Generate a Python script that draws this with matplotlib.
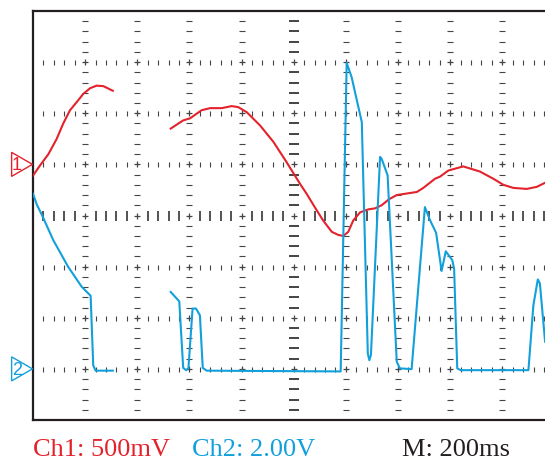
import matplotlib
matplotlib.use("Agg")
import matplotlib.pyplot as plt
from matplotlib.patches import Polygon
import numpy as np

# scope settings
ch1_scale = 0.5      # V/div
ch2_scale = 2.0      # V/div
time_scale = 200.0   # ms/div
ch1_ref = 1.0        # ground marker position, div
ch2_ref = -3.0

# Ch1 (red), two pieces, time in ms, volts
ch1_t_a = [0, 27, 59, 91, 116, 142, 168, 193, 219, 244, 270, 306]
ch1_v_a = [-0.11, -0.01, 0.10, 0.25, 0.40, 0.53, 0.61, 0.69, 0.745, 0.77,
           0.765, 0.72]

ch1_t_b = [528, 576, 602, 647, 679, 724, 762, 787, 820, 871, 922, 973, 1024,
           1050, 1081, 1113, 1146, 1171, 1190, 1209, 1228, 1254, 1286, 1312,
           1337, 1366, 1395, 1472, 1497, 1542, 1561, 1593, 1650, 1714, 1765,
           1804, 1842, 1893, 1932, 1964]
ch1_v_b = [0.35, 0.43, 0.45, 0.53, 0.55, 0.55, 0.57, 0.56, 0.51, 0.38, 0.22,
           0.02, -0.19, -0.29, -0.42, -0.55, -0.66, -0.69, -0.70, -0.66, -0.55,
           -0.47, -0.44, -0.43, -0.40, -0.34, -0.30, -0.27, -0.23, -0.14, -0.12,
           -0.06, -0.02, -0.07, -0.14, -0.20, -0.23, -0.24, -0.22, -0.18]

# Ch2 (blue)
ch2_t_a = [0, 15, 37, 78, 135, 187, 221, 231, 240, 306]
ch2_v_a = [6.85, 6.42, 5.96, 5.03, 3.99, 3.21, 2.86, 0.14, -0.07, -0.07]

ch2_t_b = [528, 561, 576, 587, 596, 612, 625, 640, 651, 666, 1180, 1203, 1222,
           1261, 1284, 1290, 1296, 1331, 1337, 1360, 1395, 1407, 1452, 1503,
           1523, 1546, 1567, 1583, 1608, 1615, 1627, 1640, 1900, 1919, 1936,
           1944, 1964]
ch2_v_b = [3.01, 2.64, 0.04, -0.05, 0.02, 2.36, 2.36, 2.10, 0.04, -0.07, -0.10,
           11.97, 11.41, 9.65, 0.60, 0.34, 0.55, 8.29, 8.22, 7.57, 0.28, 0.02,
           -0.01, 6.33, 5.81, 5.32, 3.83, 4.60, 4.25, 3.92, 0.02, -0.05, -0.05,
           2.49, 3.50, 3.34, 1.06]

labels = ["Ch1: 500mV", "Ch2: 2.00V", "M: 200ms"]

RED = "#e3222b"
BLUE = "#12a0dc"
GRID = "#444444"
FRAME = "#231f20"

W, H = 545, 460
fig = plt.figure(figsize=(W / 100, H / 100), dpi=100)
ax = fig.add_axes([33 / W, 39 / H, (W - 33) / W, 409 / H])
x_max = (W - 33) / 52.15
ax.set_xlim(0, x_max)
ax.set_ylim(-4, 4)
ax.set_xticks([])
ax.set_yticks([])
ax.spines["right"].set_visible(False)
for s in ["left", "top", "bottom"]:
    ax.spines[s].set_color(FRAME)
    ax.spines[s].set_linewidth(1.6)

# graticule
minor_y = [y for y in np.arange(-3.8, 4.0, 0.2) if abs(y - round(y)) > 0.05]
minor_x = [x for x in np.arange(0.2, x_max, 0.2) if abs(x - round(x)) > 0.05]
for cx in range(1, 10):
    if cx == 5:
        ax.plot([cx] * len(minor_y), minor_y, ls="none", marker="_", ms=7,
                mew=1.4, color=GRID, zorder=1)
    else:
        ax.plot([cx] * len(minor_y), minor_y, ls="none", marker="_", ms=3.8,
                mew=0.8, color=GRID, zorder=1)
for cy in range(-3, 4):
    if cy == 0:
        ax.plot(minor_x, [cy] * len(minor_x), ls="none", marker="|", ms=7,
                mew=1.3, color=GRID, zorder=1)
    else:
        ax.plot(minor_x, [cy] * len(minor_x), ls="none", marker="|", ms=3.6,
                mew=0.8, color=GRID, zorder=1)
gx, gy = np.meshgrid(np.arange(1, 10), np.arange(-3, 4))
ax.plot(gx.ravel(), gy.ravel(), ls="none", marker="+", ms=4.5, mew=0.9,
        color=GRID, zorder=1)

# traces
def to_div(t, v, scale, ref):
    return np.array(t) / time_scale, ref + np.array(v) / scale

for t, v in [(ch1_t_a, ch1_v_a), (ch1_t_b, ch1_v_b)]:
    x, y = to_div(t, v, ch1_scale, ch1_ref)
    ax.plot(x, y, color=RED, lw=1.5, zorder=3, solid_joinstyle="round")
for t, v in [(ch2_t_a, ch2_v_a), (ch2_t_b, ch2_v_b)]:
    x, y = to_div(t, v, ch2_scale, ch2_ref)
    ax.plot(x, y, color=BLUE, lw=1.5, zorder=4, solid_joinstyle="round")

# channel markers
for ref, col, num in [(ch1_ref, RED, "1"), (ch2_ref, BLUE, "2")]:
    tri = Polygon([[-0.41, ref + 0.235], [-0.41, ref - 0.235], [-0.01, ref]],
                  closed=True, facecolor="white", edgecolor=col, lw=1.0,
                  clip_on=False, zorder=5)
    ax.add_patch(tri)
    ax.text(-0.31, ref - 0.01, num, color=col, fontsize=13, ha="center",
            va="center", family="Liberation Sans", clip_on=False, zorder=6)

# footer
fig.text(33 / W, 3.5 / H, labels[0], color=RED, fontsize=19,
         family="Liberation Serif", ha="left", va="baseline")
fig.text(192 / W, 3.5 / H, labels[1], color=BLUE, fontsize=19,
         family="Liberation Serif", ha="left", va="baseline")
fig.text(402 / W, 3.5 / H, labels[2], color="#231f20", fontsize=19,
         family="Liberation Serif", ha="left", va="baseline")

fig.savefig("out.png", dpi=100)
